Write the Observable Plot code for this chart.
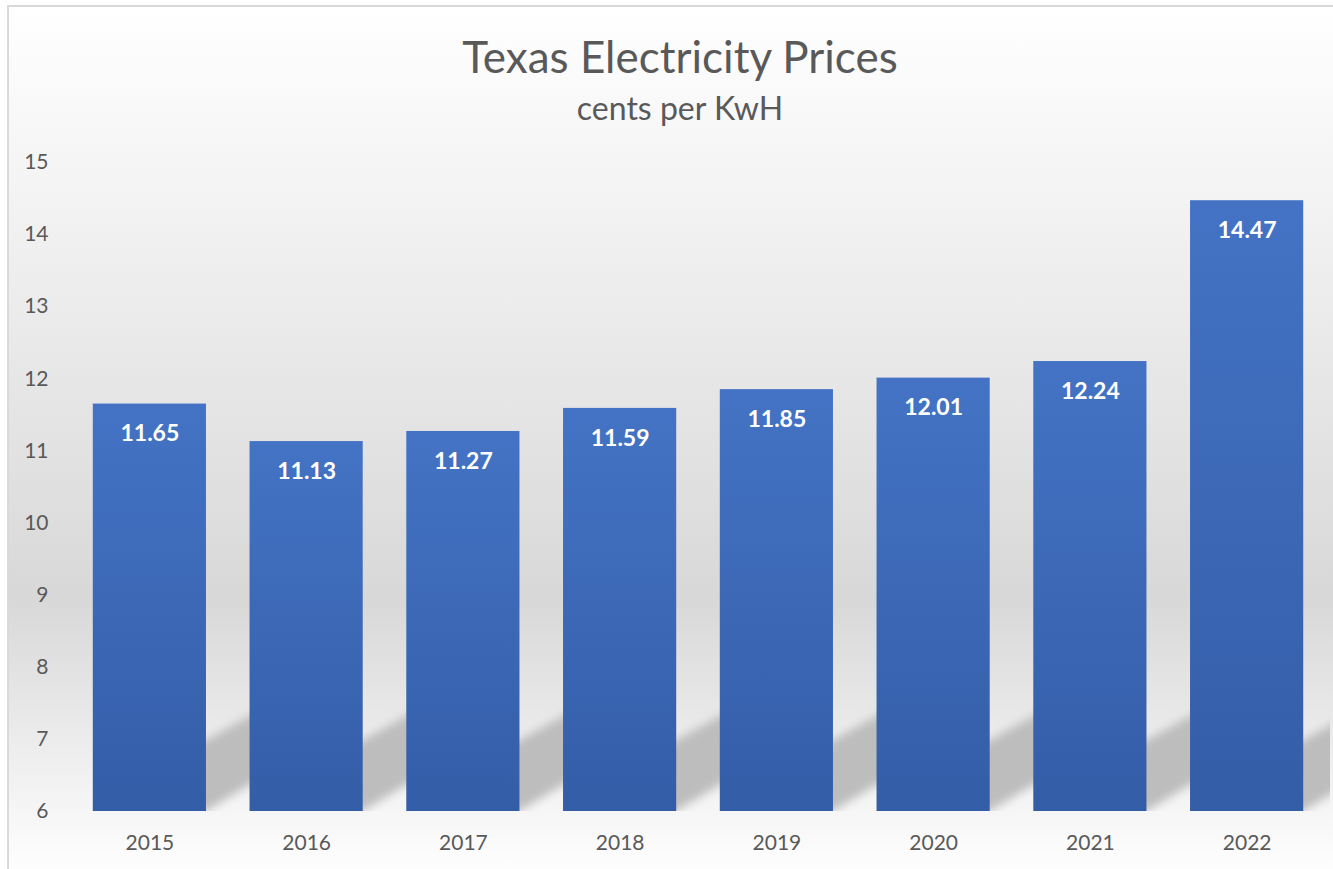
<!DOCTYPE html>
<html>
<head>
<meta charset="utf-8">
<script src="https://cdn.jsdelivr.net/npm/d3@7"></script>
<script src="https://cdn.jsdelivr.net/npm/@observablehq/plot@0.6"></script>
<style>
  html, body { margin: 0; padding: 0; background: #ffffff; }
  body { width: 1333px; height: 869px; position: relative; overflow: hidden; font-family: Lato, "Open Sans", sans-serif; }
  #panel {
    position: absolute; left: 7px; top: 5px; width: 1330px; height: 870px;
    border-left: 2px solid #d9d9d9; border-top: 2px solid #d9d9d9;
    background: linear-gradient(to bottom, #ffffff 0%, #f4f4f4 20%, #d8d8d8 68%, #ffffff 100%);
  }
  #title, #subtitle {
    position: absolute; left: 0; width: 1360px; text-align: center; color: #595959; white-space: nowrap;
  }
  #title { top: 30px; font-size: 44px; line-height: 52px; }
  #subtitle { top: 88px; font-size: 32px; line-height: 40px; }
  #chart { position: absolute; left: 0; top: 0; }
</style>
</head>
<body>
<div id="panel"></div>
<div id="title">Texas Electricity Prices</div>
<div id="subtitle">cents per KwH</div>
<div id="chart"></div>
<script>
const years = ["2015", "2016", "2017", "2018", "2019", "2020", "2021", "2022"];
const prices = [11.65, 11.13, 11.27, 11.59, 11.85, 12.01, 12.24, 14.47];
const yTicks = [6, 7, 8, 9, 10, 11, 12, 13, 14, 15];
const yMin = 6;
const yMax = 15;

const data = years.map((year, i) => ({year, price: prices[i]}));

const chart = Plot.plot({
  width: 1333,
  height: 869,
  marginTop: 162,
  marginBottom: 58,
  marginLeft: 71,
  marginRight: 8,
  style: {fontFamily: "Lato, 'Open Sans', sans-serif", fontSize: "21px", color: "#595959", background: "transparent"},
  x: {domain: years, paddingInner: 0.278, paddingOuter: 0.139, round: false, label: null},
  y: {domain: [yMin, yMax], label: null},
  marks: [
    Plot.barY(data, {x: "year", y1: () => yMin, y2: "price", fill: "url(#barGrad)"}),
    Plot.text(data, {x: "year", y: "price", text: d => d.price.toFixed(2), dy: 30, fill: "white", fontWeight: "bold", fontSize: 23}),
    Plot.axisY({ticks: yTicks, tickSize: 0, tickPadding: 23, label: null, fill: "#595959"}),
    Plot.axisX({tickSize: 0, tickPadding: 24, label: null, fill: "#595959"})
  ]
});

const ns = "http://www.w3.org/2000/svg";
const defs = document.createElementNS(ns, "defs");
defs.innerHTML = `
  <linearGradient id="barGrad" x1="0" y1="0" x2="0" y2="1">
    <stop offset="0%" stop-color="#4473c5"/>
    <stop offset="100%" stop-color="#345da7"/>
  </linearGradient>
  <filter id="shBlur" x="-20%" y="-20%" width="140%" height="140%">
    <feGaussianBlur stdDeviation="5"/>
  </filter>`;
chart.insertBefore(defs, chart.firstChild);

// shadows derived from the rendered bars
const barGroup = chart.querySelector('g[aria-label="bar"]');
const rects = barGroup.querySelectorAll("rect");
let base = 0;
rects.forEach(r => { base = Math.max(base, +r.getAttribute("y") + +r.getAttribute("height")); });
const clip = document.createElementNS(ns, "clipPath");
clip.setAttribute("id", "shClip");
clip.innerHTML = `<rect x="0" y="0" width="1330" height="${base}"/>`;
defs.appendChild(clip);
const outer = document.createElementNS(ns, "g");
outer.setAttribute("clip-path", "url(#shClip)");
const inner = document.createElementNS(ns, "g");
inner.setAttribute("filter", "url(#shBlur)");
outer.appendChild(inner);
rects.forEach(r => {
  const R = +r.getAttribute("x") + +r.getAttribute("width");
  const B = +r.getAttribute("y") + +r.getAttribute("height");
  const p = document.createElementNS(ns, "polygon");
  p.setAttribute("points", [[R - 40, B + 24], [R + 60, B - 36], [R + 60, B - 104], [R - 40, B - 49]].map(a => a.join(",")).join(" "));
  p.setAttribute("fill", "#bdbdbd");
  inner.appendChild(p);
});
barGroup.parentNode.insertBefore(outer, barGroup);

document.getElementById("chart").appendChild(chart);
</script>
</body>
</html>
